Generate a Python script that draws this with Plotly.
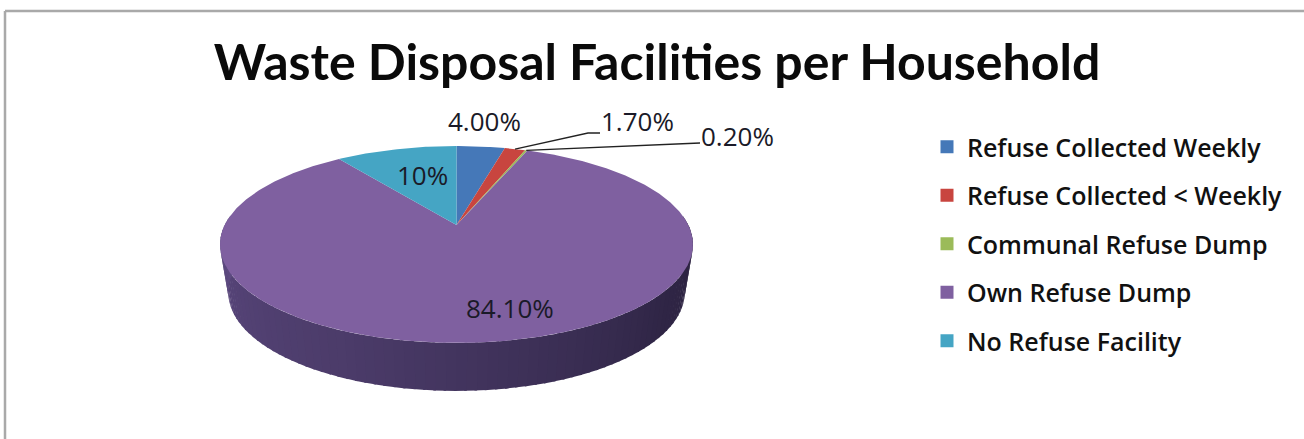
import numpy as np
import plotly.graph_objects as go

categories = ["Refuse Collected Weekly", "Refuse Collected < Weekly", "Communal Refuse Dump", "Own Refuse Dump", "No Refuse Facility"]
values = [4.0, 1.7, 0.2, 84.1, 10.0]
labels = ["4.00%", "1.70%", "0.20%", "84.10%", "10%"]
colors = ["#4578b8", "#c8453f", "#9bbb59", "#7f60a0", "#45a5c4"]
label_xy = [(484, 121), (637, 121), (737, 136), (510, 308), (422, 175)]

W, H = 1304, 439
CX, CY = 456.5, 225.0
A, B, K = 94.6, 231.8, 0.1977
DEPTH = 48.0
BOTTOM_SCALE = 0.965


def project(frac, depth=0.0, radius=1.0):
    """Perspective projection of a pie position (fraction clockwise from 12 o'clock)."""
    t = 2 * np.pi * np.asarray(frac, dtype=float)
    u, v = radius * np.sin(t), radius * np.cos(t)
    d = 1 + K * v
    s = 1 - (1 - BOTTOM_SCALE) * (depth / DEPTH)
    return CX + s * B * u / d, CY + depth - A * v / d


def side_color(f):
    stops = [(0.0, (44, 35, 64)), (0.22, (48, 38, 70)), (0.62, (76, 60, 106)), (0.85, (86, 68, 120)), (1.0, (98, 78, 134))]
    xs = [p[0] for p in stops]
    rgb = [np.interp(f, xs, [p[1][i] for p in stops]) for i in range(3)]
    return "rgb(%d,%d,%d)" % tuple(rgb)


fig = go.Figure()

# Rim of the pie: strips along the visible front edge of the biggest slice.
fracs = np.cumsum([0] + values) / sum(values)
rim = np.linspace(0.235, 0.765, 91)
for i in range(len(rim) - 1):
    seg = np.linspace(rim[i], rim[i + 1] + 0.0015, 4)
    xt, yt = project(seg)
    xb, yb = project(seg, DEPTH)
    fig.add_trace(go.Scatter(
        x=np.r_[xt, xb[::-1]], y=np.r_[yt, yb[::-1]], mode="lines", fill="toself",
        fillcolor=side_color((rim[i] - 0.235) / 0.53), line=dict(width=0),
        showlegend=False, hoverinfo="skip"))

# Top surface of every slice, drawn from the values.
for i, name in enumerate(categories):
    seg = np.linspace(fracs[i], fracs[i + 1], max(3, int(values[i] * 6)))
    x, y = project(seg)
    fig.add_trace(go.Scatter(
        x=np.r_[CX, x, CX], y=np.r_[CY, y, CY], mode="lines", fill="toself",
        fillcolor=colors[i], line=dict(width=0), name=name, showlegend=False,
        hoverinfo="name"))

# Legend entries as square swatches.
for i, name in enumerate(categories):
    fig.add_trace(go.Scatter(
        x=[None], y=[None], mode="markers", name=name, legendgroup=name,
        marker=dict(symbol="square", size=13, color=colors[i])))

# Leader lines of the two thin slices.
mid1 = (fracs[1] + fracs[2]) / 2
mid2 = (fracs[2] + fracs[3]) / 2
x1, y1 = project(mid1)
x2, y2 = project(mid2)
fig.add_trace(go.Scatter(x=[float(x1), 588, 600], y=[float(y1), 133, 133], mode="lines",
                         line=dict(color="#222222", width=1.3), showlegend=False, hoverinfo="skip"))
fig.add_trace(go.Scatter(x=[float(x2), 700], y=[float(y2), 143], mode="lines",
                         line=dict(color="#222222", width=1.3), showlegend=False, hoverinfo="skip"))

# Slice labels.
for txt, (lx, ly) in zip(labels, label_xy):
    fig.add_annotation(x=lx, y=ly, text=txt, showarrow=False, xanchor="center", yanchor="middle",
                       font=dict(family="Open Sans", size=26, color="#1a1a28"))

# Chart frame: top and left edges only are visible.
fig.add_shape(type="line", x0=5, x1=1304, y0=11, y1=11, line=dict(color="#a9a9a9", width=2.5))
fig.add_shape(type="line", x0=5, x1=5, y0=11, y1=439, line=dict(color="#a9a9a9", width=2.5))

fig.update_layout(
    width=W, height=H, autosize=False,
    margin=dict(l=0, r=0, t=0, b=0),
    paper_bgcolor="white", plot_bgcolor="white",
    title=dict(text="<b>Waste Disposal Facilities per Household</b>", x=657 / W, xanchor="center",
               y=1 - 62 / H, yanchor="middle", font=dict(family="Lato", size=50, color="#0a0a0a")),
    xaxis=dict(range=[0, W], visible=False, fixedrange=True),
    yaxis=dict(range=[H, 0], visible=False, fixedrange=True),
    legend=dict(x=927 / W, y=1 - 124 / H, xanchor="left", yanchor="top",
                font=dict(family="Open Sans", size=25, color="#111111", weight=600),
                tracegroupgap=13, itemwidth=30, bgcolor="rgba(0,0,0,0)", itemclick=False, itemdoubleclick=False),
    showlegend=True,
)

fig.write_html("out.html", config={"displayModeBar": False},
               post_script="document.body.style.margin='0';document.documentElement.style.overflow='hidden';")
